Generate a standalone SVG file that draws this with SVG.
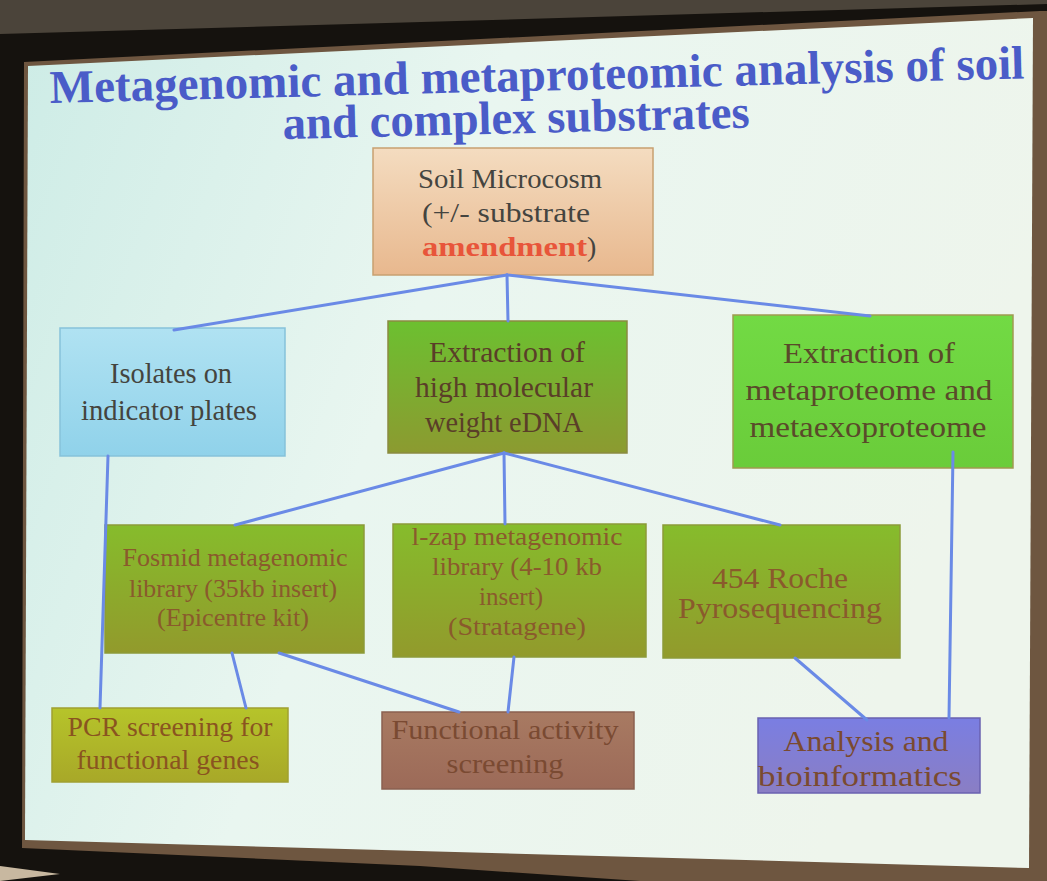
<svg xmlns="http://www.w3.org/2000/svg" width="1047" height="881" viewBox="0 0 1047 881">
<defs>
<linearGradient id="slide" x1="0" y1="0" x2="1" y2="0.3">
<stop offset="0" stop-color="#cdece6"/>
<stop offset="0.45" stop-color="#e9f6f0"/>
<stop offset="1" stop-color="#eef5ec"/>
</linearGradient>
<linearGradient id="gSoil" x1="0" y1="0" x2="0" y2="1">
<stop offset="0" stop-color="#f4dcc0"/><stop offset="1" stop-color="#e8b88e"/>
</linearGradient>
<linearGradient id="gIso" x1="0" y1="0" x2="0" y2="1">
<stop offset="0" stop-color="#b0e2f2"/><stop offset="1" stop-color="#90d2ea"/>
</linearGradient>
<linearGradient id="gDna" x1="0" y1="0" x2="0" y2="1">
<stop offset="0" stop-color="#6cc030"/><stop offset="1" stop-color="#8c9a30"/>
</linearGradient>
<linearGradient id="gProt" x1="0" y1="0" x2="0" y2="1">
<stop offset="0" stop-color="#72da44"/><stop offset="1" stop-color="#6acc3a"/>
</linearGradient>
<linearGradient id="gLib" x1="0" y1="0" x2="0" y2="1">
<stop offset="0" stop-color="#86bc2c"/><stop offset="1" stop-color="#929a2c"/>
</linearGradient>
<linearGradient id="gPcr" x1="0" y1="0" x2="0" y2="1">
<stop offset="0" stop-color="#b6c42a"/><stop offset="1" stop-color="#a8a828"/>
</linearGradient>
<linearGradient id="gFun" x1="0" y1="0" x2="0" y2="1">
<stop offset="0" stop-color="#a87a62"/><stop offset="1" stop-color="#9c6a58"/>
</linearGradient>
<linearGradient id="gAna" x1="0" y1="0" x2="0" y2="1">
<stop offset="0" stop-color="#7a7ee2"/><stop offset="1" stop-color="#8a7ec4"/>
</linearGradient>
</defs>
<style>
.t{font-family:"Liberation Serif","DejaVu Serif",serif;text-anchor:middle}
.title{font-family:"Liberation Serif","DejaVu Serif",serif;font-weight:bold;fill:#4a5cc8}
.box{stroke-width:1.5}
.conn{stroke:#6a8ae6;stroke-width:3;fill:none;stroke-linecap:round}
</style>

<!-- room / frame -->
<rect x="0" y="0" width="1047" height="881" fill="#15120e"/>
<polygon points="0,0 1047,0 1047,4 0,34" fill="#4b443a"/>
<polygon points="24,62 1040,11 1047,11 1047,881 640,881 420,866 22,848" fill="#6e5640"/>
<polygon points="0,866 60,874 0,881" fill="#c8b8a0"/>
<polygon points="28,66 1033,18 1029,868 25,840" fill="url(#slide)"/>

<!-- title -->
<text class="title" x="50" y="103" font-size="47" textLength="975" lengthAdjust="spacingAndGlyphs" transform="rotate(-1.45 50 103)">Metagenomic and metaproteomic analysis of soil</text>
<text class="title" x="283" y="139" font-size="47" textLength="467" lengthAdjust="spacingAndGlyphs" transform="rotate(-1.4 283 139)">and complex substrates</text>

<!-- nodes -->
<g id="soil">
<rect class="box" x="373" y="148" width="280" height="127" fill="url(#gSoil)" stroke="#c8a070"/>
<text class="t" x="510" y="188" font-size="28" fill="#444440" textLength="184" lengthAdjust="spacingAndGlyphs">Soil Microcosm</text>
<text class="t" x="506" y="222" font-size="28" fill="#444440" textLength="168" lengthAdjust="spacingAndGlyphs">(+/- substrate</text>
<text x="422" y="256" font-size="28" font-weight="bold" fill="#e8553a" font-family="Liberation Serif, serif" textLength="165" lengthAdjust="spacingAndGlyphs">amendment</text>
<text x="587" y="256" font-size="28" fill="#444440" font-family="Liberation Serif, serif">)</text>
</g>

<g id="isolates">
<rect class="box" x="60" y="328" width="225" height="128" fill="url(#gIso)" stroke="#86c2da"/>
<text class="t" x="171" y="383" font-size="29" fill="#44443e" textLength="122" lengthAdjust="spacingAndGlyphs">Isolates on</text>
<text class="t" x="169" y="420" font-size="29" fill="#44443e" textLength="176" lengthAdjust="spacingAndGlyphs">indicator plates</text>
</g>

<g id="edna">
<rect class="box" x="388" y="321" width="239" height="132" fill="url(#gDna)" stroke="#8a8a40"/>
<text class="t" x="507" y="362" font-size="29" fill="#5a3e28" textLength="156" lengthAdjust="spacingAndGlyphs">Extraction of</text>
<text class="t" x="504" y="397" font-size="29" fill="#5a3e28" textLength="178" lengthAdjust="spacingAndGlyphs">high molecular</text>
<text class="t" x="504" y="432" font-size="29" fill="#5a3e28" textLength="158" lengthAdjust="spacingAndGlyphs">weight eDNA</text>
</g>

<g id="metaproteome">
<rect class="box" x="733" y="315" width="280" height="153" fill="url(#gProt)" stroke="#a09a50"/>
<text class="t" x="869" y="363" font-size="30" fill="#5a4a2a" textLength="172" lengthAdjust="spacingAndGlyphs">Extraction of</text>
<text class="t" x="869" y="400" font-size="30" fill="#5a4a2a" textLength="247" lengthAdjust="spacingAndGlyphs">metaproteome and</text>
<text class="t" x="868" y="437" font-size="30" fill="#5a4a2a" textLength="237" lengthAdjust="spacingAndGlyphs">metaexoproteome</text>
</g>

<g id="fosmid">
<rect class="box" x="105" y="525" width="259" height="128" fill="url(#gLib)" stroke="#8c9a38"/>
<text class="t" x="235" y="566" font-size="25" fill="#8a5a2c" textLength="225" lengthAdjust="spacingAndGlyphs">Fosmid metagenomic</text>
<text class="t" x="233" y="597" font-size="25" fill="#8a5a2c" textLength="208" lengthAdjust="spacingAndGlyphs">library (35kb insert)</text>
<text class="t" x="233" y="626" font-size="25" fill="#8a5a2c" textLength="152" lengthAdjust="spacingAndGlyphs">(Epicentre kit)</text>
</g>

<g id="lzap">
<rect class="box" x="393" y="524" width="253" height="133" fill="url(#gLib)" stroke="#8c9a38"/>
<text class="t" x="517" y="545" font-size="25" fill="#8a5a2c" textLength="211" lengthAdjust="spacingAndGlyphs">l-zap metagenomic</text>
<text class="t" x="517" y="575" font-size="25" fill="#8a5a2c" textLength="170" lengthAdjust="spacingAndGlyphs">library (4-10 kb</text>
<text class="t" x="511" y="605" font-size="25" fill="#8a5a2c" textLength="64" lengthAdjust="spacingAndGlyphs">insert)</text>
<text class="t" x="517" y="635" font-size="25" fill="#8a5a2c" textLength="138" lengthAdjust="spacingAndGlyphs">(Stratagene)</text>
</g>

<g id="roche">
<rect class="box" x="663" y="525" width="237" height="133" fill="url(#gLib)" stroke="#8c9a38"/>
<text class="t" x="780" y="588" font-size="29" fill="#8a5a2c" textLength="136" lengthAdjust="spacingAndGlyphs">454 Roche</text>
<text class="t" x="780" y="618" font-size="29" fill="#8a5a2c" textLength="204" lengthAdjust="spacingAndGlyphs">Pyrosequencing</text>
</g>

<g id="pcr">
<rect class="box" x="52" y="708" width="236" height="74" fill="url(#gPcr)" stroke="#a0a030"/>
<text class="t" x="170" y="736" font-size="28" fill="#8a5420" textLength="205" lengthAdjust="spacingAndGlyphs">PCR screening for</text>
<text class="t" x="168" y="769" font-size="28" fill="#8a5420" textLength="183" lengthAdjust="spacingAndGlyphs">functional genes</text>
</g>

<g id="functional">
<rect class="box" x="382" y="712" width="252" height="77" fill="url(#gFun)" stroke="#8a6050"/>
<text class="t" x="505" y="739" font-size="28" fill="#7a4a32" textLength="227" lengthAdjust="spacingAndGlyphs">Functional activity</text>
<text class="t" x="505" y="773" font-size="28" fill="#7a4a32" textLength="117" lengthAdjust="spacingAndGlyphs">screening</text>
</g>

<g id="analysis">
<rect class="box" x="758" y="718" width="222" height="75" fill="url(#gAna)" stroke="#6a62b0"/>
<text class="t" x="866" y="751" font-size="29" fill="#7a4a30" textLength="165" lengthAdjust="spacingAndGlyphs">Analysis and</text>
<text class="t" x="860" y="786" font-size="29" fill="#7a4a30" textLength="204" lengthAdjust="spacingAndGlyphs">bioinformatics</text>
</g>

<!-- connectors -->
<g id="connectors" class="conn">
<path class="conn" d="M507,275 L508,321"/>
<path class="conn" d="M507,275 L174,330"/>
<path class="conn" d="M507,275 L870,316"/>
<path class="conn" d="M504,453 L235,525"/>
<path class="conn" d="M504,453 L505,524"/>
<path class="conn" d="M504,453 L780,525"/>
<path class="conn" d="M108,456 L100,708"/>
<path class="conn" d="M232,653 L246,708"/>
<path class="conn" d="M279,653 L459,712"/>
<path class="conn" d="M514,657 L508,712"/>
<path class="conn" d="M795,658 L867,720"/>
<path class="conn" d="M953,452 L949,718"/>
</g>
</svg>
